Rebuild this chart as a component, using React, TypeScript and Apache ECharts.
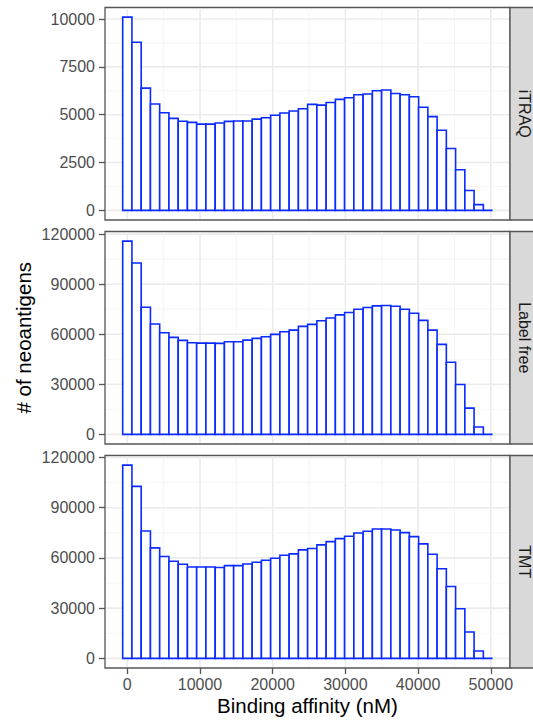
import React, { useEffect, useRef } from "react";
import * as echarts from "echarts";

// ---- data ----
const panels = ["iTRAQ", "Label free", "TMT"];
const binWidth = 1272; // histogram bin width (nM); bins centred on 0, 1272, 2544, ...
const itraq = [
  10100, 8790, 6390, 5560, 5100, 4810, 4660, 4600, 4510, 4510,
  4570, 4650, 4670, 4670, 4770, 4840, 4970, 5090, 5190, 5310,
  5540, 5500, 5640, 5800, 5890, 6040, 6080, 6250, 6290, 6110,
  6040, 5940, 5390, 4900, 4190, 3230, 2120, 1040, 300, 0,
];
const labelFree = [
  115800, 102700, 76200, 66100, 60900, 58100, 56300, 54900, 54700, 54700,
  54500, 55500, 55500, 56500, 57500, 58500, 59900, 61500, 62500, 64700,
  65900, 68100, 69700, 71600, 73000, 75000, 76000, 77000, 77200, 76800,
  75000, 72600, 68300, 62500, 53900, 43200, 29900, 15700, 4400, 0,
];
const tmt = [
  115400, 102700, 76100, 66000, 60800, 58000, 56200, 54600, 54600, 54600,
  54300, 55400, 55400, 56400, 57400, 58600, 59800, 61600, 62400, 64800,
  65600, 67800, 69700, 71500, 72900, 74900, 75900, 77300, 77300, 76700,
  75100, 72700, 68400, 62200, 53500, 42900, 29600, 15700, 4400, 0,
];
const xTicks = [0, 10000, 20000, 30000, 40000, 50000];
const xMinor = [5000, 15000, 25000, 35000, 45000];
const yTicksSmall = [0, 2500, 5000, 7500, 10000];
const yMinorSmall = [1250, 3750, 6250, 8750];
const yTicksLarge = [0, 30000, 60000, 90000, 120000];
const yMinorLarge = [15000, 45000, 75000, 105000];
const xTitle = "Binding affinity (nM)";
const yTitle = "# of neoantigens";

// ---- layout / style ----
const FONT = "'Liberation Sans', Arial, Helvetica, sans-serif";
const X_MIN = -3070;
const X_MAX = 52640;
const PANEL_LEFT = 105;
const PANEL_WIDTH = 405;
const PANEL_TOPS = [7.5, 231.5, 455.5];
const PANEL_H = 212.5;
const BAR_COLOR = "#0a2aff";
const BORDER = "#555555";

export default function App() {
  const ref = useRef<HTMLDivElement>(null);

  useEffect(() => {
    if (!ref.current) return;
    const chart = echarts.init(ref.current, undefined, { renderer: "svg" });

    const dataSets = [itraq, labelFree, tmt];
    const yTickSets = [yTicksSmall, yTicksLarge, yTicksLarge];
    const yMinorSets = [yMinorSmall, yMinorLarge, yMinorLarge];

    const grids = panels.map((_, i) => ({
      left: PANEL_LEFT,
      width: PANEL_WIDTH,
      top: PANEL_TOPS[i],
      height: PANEL_H,
      show: true,
      borderColor: BORDER,
      borderWidth: 1.3,
      backgroundColor: "transparent",
      containLabel: false,
      outerBoundsMode: "none",
    }));

    const xAxes = panels.map((_, i) => ({
      type: "value",
      gridIndex: i,
      min: X_MIN,
      max: X_MAX,
      axisLine: { show: false, onZero: false },
      axisTick: {
        show: i === panels.length - 1,
        customValues: xTicks,
        length: 6,
        lineStyle: { color: BORDER, width: 1.3 },
      },
      axisLabel: {
        show: i === panels.length - 1,
        customValues: xTicks,
        formatter: (v: number) => String(v),
        color: "#4d4d4d",
        fontSize: 16,
        fontFamily: FONT,
        margin: 8,
      },
      splitLine: { show: false },
    }));

    const yAxes = panels.map((_, i) => {
      const mx = Math.max(...dataSets[i]);
      return {
        type: "value",
        gridIndex: i,
        min: -0.05 * mx,
        max: 1.05 * mx,
        axisLine: { show: false, onZero: false },
        axisTick: {
          show: true,
          customValues: yTickSets[i],
          length: 6,
          lineStyle: { color: BORDER, width: 1.3 },
        },
        axisLabel: {
          show: true,
          customValues: yTickSets[i],
          formatter: (v: number) => String(v),
          color: "#4d4d4d",
          fontSize: 16,
          fontFamily: FONT,
          margin: 10,
        },
        splitLine: { show: false },
      };
    });

    const series: any[] = [];
    panels.forEach((_, i) => {
      const gridData: number[][] = [
        ...xTicks.map((v) => [v, 0, 0]),
        ...xMinor.map((v) => [v, 0, 1]),
        ...yTickSets[i].map((v) => [0, v, 2]),
        ...yMinorSets[i].map((v) => [0, v, 3]),
      ];
      series.push({
        type: "custom",
        xAxisIndex: i,
        yAxisIndex: i,
        silent: true,
        z: 1,
        dimensions: ["x", "y", "kind"],
        encode: { x: 0, y: 1 },
        data: gridData,
        renderItem: (params: any, api: any) => {
          const cs = params.coordSys;
          const kind = api.value(2);
          const major = kind === 0 || kind === 2;
          const style = {
            stroke: major ? "#ebebeb" : "#f4f4f4",
            lineWidth: major ? 1.6 : 0.9,
          };
          if (kind < 2) {
            const x = api.coord([api.value(0), 0])[0];
            return {
              type: "line",
              shape: { x1: x, y1: cs.y + 1, x2: x, y2: cs.y + cs.height - 1 },
              style,
            };
          }
          const y = api.coord([0, api.value(1)])[1];
          return {
            type: "line",
            shape: { x1: cs.x + 1, y1: y, x2: cs.x + cs.width - 1, y2: y },
            style,
          };
        },
      });
      series.push({
        type: "custom",
        xAxisIndex: i,
        yAxisIndex: i,
        silent: true,
        z: 2,
        encode: { x: 0, y: 1 },
        data: dataSets[i].map((v, k) => [k * binWidth, v]),
        renderItem: (_p: any, api: any) => {
          const c = api.value(0);
          const v = api.value(1);
          const p0 = api.coord([c - binWidth / 2, 0]);
          const p1 = api.coord([c + binWidth / 2, v]);
          return {
            type: "polygon",
            shape: {
              points: [
                [p0[0], p0[1]],
                [p0[0], p1[1]],
                [p1[0], p1[1]],
                [p1[0], p0[1]],
              ],
            },
            style: { fill: "#ffffff", stroke: BAR_COLOR, lineWidth: 1.6 },
          };
        },
      });
    });

    const graphic: any[] = [];
    panels.forEach((name, i) => {
      graphic.push({
        type: "rect",
        silent: true,
        z: 10,
        shape: { x: PANEL_LEFT + PANEL_WIDTH, y: PANEL_TOPS[i], width: 36, height: PANEL_H },
        style: { fill: "#d9d9d9", stroke: BORDER, lineWidth: 1.3 },
      });
      graphic.push({
        type: "text",
        silent: true,
        z: 11,
        x: PANEL_LEFT + PANEL_WIDTH + 14.5,
        y: PANEL_TOPS[i] + PANEL_H / 2,
        rotation: -Math.PI / 2,
        style: {
          text: name,
          fill: "#1a1a1a",
          font: `16px ${FONT}`,
          textAlign: "center",
          textVerticalAlign: "middle",
        },
      });
    });
    graphic.push({
      type: "text",
      silent: true,
      x: PANEL_LEFT + PANEL_WIDTH / 2,
      y: 705,
      style: {
        text: xTitle,
        fill: "#000000",
        font: `20.5px ${FONT}`,
        textAlign: "center",
        textVerticalAlign: "middle",
      },
    });
    graphic.push({
      type: "text",
      silent: true,
      x: 23,
      y: (PANEL_TOPS[0] + PANEL_TOPS[2] + PANEL_H) / 2,
      rotation: Math.PI / 2,
      style: {
        text: yTitle,
        fill: "#000000",
        font: `20.5px ${FONT}`,
        textAlign: "center",
        textVerticalAlign: "middle",
      },
    });

    chart.setOption({
      animation: false,
      backgroundColor: "#ffffff",
      textStyle: { fontFamily: FONT },
      grid: grids,
      xAxis: xAxes,
      yAxis: yAxes,
      series,
      graphic,
    } as any);

    return () => chart.dispose();
  }, []);

  return (
    <div
      ref={ref}
      style={{ position: "fixed", left: 0, top: 0, width: 533, height: 721 }}
    />
  );
}
